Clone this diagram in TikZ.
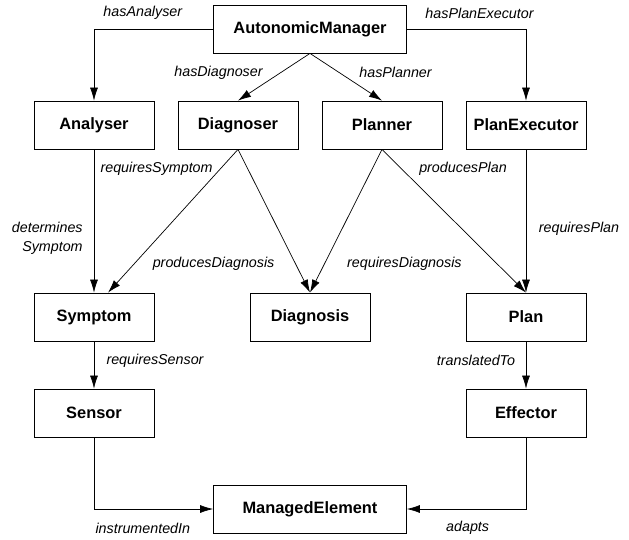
\documentclass[tikz,border=0pt]{standalone}
\usepackage{fontspec}
\setmainfont{Liberation Sans}
\usepackage{tikz}
\usetikzlibrary{arrows}
\usetikzlibrary{arrows.meta}
\usetikzlibrary{positioning}
\tikzstyle{every node}+=[inner sep=0pt]
\tikzstyle{block} = [rectangle, draw, line width=0.8pt, font=\fontsize{16.4}{19}\selectfont\bfseries, text centered, minimum width=120pt, minimum height=48pt]
\tikzstyle{wide} = [minimum width=193pt]
\tikzstyle{line} = [draw, line width=0.7pt, -{Latex[length=13pt,width=8pt]}]
\tikzstyle{rel} = [font=\fontsize{14.3}{18.7}\selectfont\itshape]

\begin{document}
\begin{tikzpicture}[node distance = 96pt, every text node part/.style={align=right}]
            \useasboundingbox (-310pt,29pt) rectangle (319pt,-510pt);
            % Place nodes
            \node [block, wide] (am) {AutonomicManager};
            \node [block, below of=am, xshift=-72pt] (diagnoser) {Diagnoser};
            \node [block, below of=am, xshift=72pt] (planner) {Planner};
            \node [block, left of=diagnoser, node distance=144pt] (analyser) {Analyser};
            \node [block, right of=planner, node distance=144pt] (planexecutor) {PlanExecutor};
            \node [block, below of=analyser, node distance=192pt] (symptom) {Symptom};
            \node [block, below of=am, node distance=288pt] (diagnosis) {Diagnosis};
            \node [block, below of=planexecutor, node distance=192pt] (plan) {Plan};
            \node [block, below of=symptom] (sensor) {Sensor};
            \node [block, below of=plan] (effector) {Effector};
            \node [block, wide, below of=am, node distance=480pt] (managed) {ManagedElement};
            % Draw edges
            \path [line] (am.west) -| node [rel, pos=0.295, yshift=16pt] (l1) {hasAnalyser} (analyser);
            \path [line] (am.east) -| node [rel, pos=0.305, yshift=16pt] (l2) {hasPlanExecutor} (planexecutor);
            \path [line] (am.south) -- node [rel, pos=0.41, xshift=-62pt] (l3) {hasDiagnoser} (diagnoser.north);
            \path [line] (am.south) -- node [rel, pos=0.41, xshift=56pt] (l4) {hasPlanner} (planner.north);
            \path [line] (analyser) -- node [rel, pos=0.62, anchor=east, xshift=-11pt] (l5) {determines\\Symptom} (symptom);
            \path [line] (diagnoser.south) -- node [rel, pos=0.134, xshift=-64pt] (l6) {requiresSymptom} (symptom.60);
            \path [line] (diagnoser.south) -- node [rel, pos=0.8, xshift=-82pt] (l7) {producesDiagnosis} (diagnosis.north);
            \path [line] (planner.south) -- node [rel, pos=0.8, xshift=80pt] (l8) {requiresDiagnosis} (diagnosis.north);
            \path [line] (planner.south) -- node [rel, pos=0.132, xshift=62pt] (l9) {producesPlan} (plan.north);
            \path [line] (planexecutor) -- node [rel, pos=0.556, xshift=53pt] (l10) {requiresPlan} (plan);
            \path [line] (symptom) -- node [rel, pos=0.41, xshift=61pt] (l11) {requiresSensor} (sensor);
            \path [line] (plan) -- node [rel, pos=0.41, xshift=-50pt] (l12) {translatedTo} (effector);
            \path [line] (sensor) |- node [rel, pos=0.705, yshift=-19pt] (l13) {instrumentedIn} (managed);
            \path [line] (effector) |- node [rel, pos=0.745, yshift=-19pt] (l14) {adapts} (managed);
          \end{tikzpicture}
\end{document}
